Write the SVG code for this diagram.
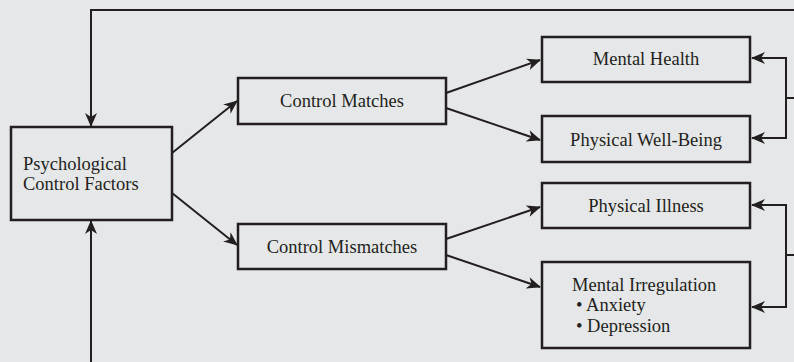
<svg xmlns="http://www.w3.org/2000/svg" width="794" height="362" viewBox="0 0 794 362">
  <style>
    .box { fill: none; stroke: #231f20; stroke-width: 2.5; }
    .lbl { font-family: "Liberation Serif", "DejaVu Serif", serif; font-size: 18.5px; fill: #231f20; }
    .mid { text-anchor: middle; }
    .ln { fill: none; stroke: #231f20; stroke-width: 2; }
  </style>
  <defs>
    <marker id="ah" viewBox="0 0 14 12" refX="13" refY="6" markerWidth="14" markerHeight="12" markerUnits="userSpaceOnUse" orient="auto">
      <path d="M0,0 L14,6 L0,12 L4,6 z" fill="#231f20"/>
    </marker>
  </defs>
  <rect width="794" height="362" fill="#e6e7e9"/>

  <g id="connectors">
    <!-- feedback loop from the top -->
    <polyline class="ln" points="794,10 91,10 91,126" marker-end="url(#ah)"/>
    <!-- feedback loop from the bottom -->
    <polyline class="ln" points="91,362 91,221" marker-end="url(#ah)"/>
    <!-- factors to match / mismatch -->
    <line class="ln" x1="172" y1="153" x2="237" y2="101" marker-end="url(#ah)"/>
    <line class="ln" x1="172" y1="193" x2="237" y2="245" marker-end="url(#ah)"/>
    <!-- matches to outcomes -->
    <line class="ln" x1="446" y1="93" x2="540" y2="60" marker-end="url(#ah)"/>
    <line class="ln" x1="446" y1="108" x2="540" y2="140" marker-end="url(#ah)"/>
    <!-- mismatches to outcomes -->
    <line class="ln" x1="446" y1="239" x2="540" y2="207" marker-end="url(#ah)"/>
    <line class="ln" x1="446" y1="255" x2="540" y2="287" marker-end="url(#ah)"/>
    <!-- right-hand brackets -->
    <polyline class="ln" points="786,58 752,58" marker-end="url(#ah)"/>
    <polyline class="ln" points="786,57 786,139"/>
    <polyline class="ln" points="786,138 752,138" marker-end="url(#ah)"/>
    <line class="ln" x1="786" y1="98" x2="794" y2="98"/>
    <polyline class="ln" points="786,205 752,205" marker-end="url(#ah)"/>
    <polyline class="ln" points="786,204 786,308"/>
    <polyline class="ln" points="786,307 752,307" marker-end="url(#ah)"/>
    <line class="ln" x1="786" y1="255" x2="794" y2="255"/>
  </g>

  <g id="factors">
    <rect class="box" x="11" y="127" width="161" height="93"/>
    <text class="lbl" x="23" y="170">Psychological</text>
    <text class="lbl" x="23" y="190">Control Factors</text>
  </g>

  <g id="matches">
    <rect class="box" x="238" y="78" width="208" height="46"/>
    <text class="lbl mid" x="342" y="107">Control Matches</text>
  </g>

  <g id="mismatches">
    <rect class="box" x="238" y="224" width="208" height="45"/>
    <text class="lbl mid" x="342" y="253">Control Mismatches</text>
  </g>

  <g id="mental-health">
    <rect class="box" x="542" y="37" width="208" height="45"/>
    <text class="lbl mid" x="646" y="65">Mental Health</text>
  </g>

  <g id="physical-well-being">
    <rect class="box" x="542" y="116" width="208" height="46"/>
    <text class="lbl mid" x="646" y="146">Physical Well-Being</text>
  </g>

  <g id="physical-illness">
    <rect class="box" x="542" y="183" width="208" height="45"/>
    <text class="lbl mid" x="646" y="212">Physical Illness</text>
  </g>

  <g id="mental-irregulation">
    <rect class="box" x="542" y="262" width="208" height="86"/>
    <text class="lbl" x="572" y="291">Mental Irregulation</text>
    <text class="lbl" x="576" y="311">• Anxiety</text>
    <text class="lbl" x="576" y="332">• Depression</text>
  </g>
</svg>
